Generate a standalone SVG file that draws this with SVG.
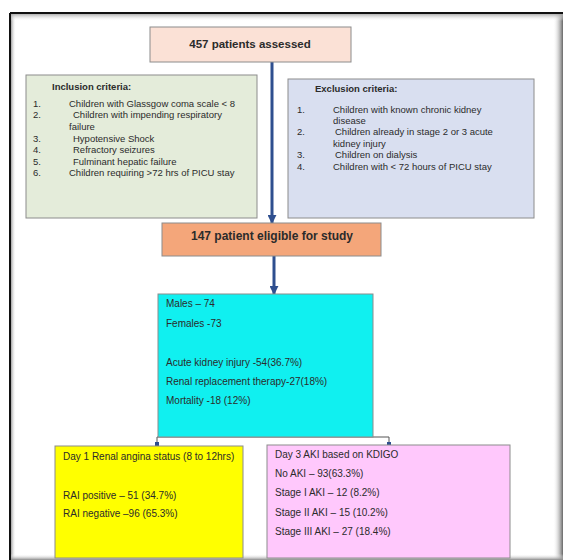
<svg xmlns="http://www.w3.org/2000/svg" width="563" height="560" viewBox="0 0 563 560">
<defs>
<linearGradient id="shL" x1="0" y1="0" x2="1" y2="0"><stop offset="0" stop-color="#777"/><stop offset="1" stop-color="#fff" stop-opacity="0"/></linearGradient>
<linearGradient id="shR" x1="1" y1="0" x2="0" y2="0"><stop offset="0" stop-color="#666"/><stop offset="1" stop-color="#fff" stop-opacity="0"/></linearGradient>
<linearGradient id="shT" x1="0" y1="0" x2="0" y2="1"><stop offset="0" stop-color="#999"/><stop offset="1" stop-color="#fff" stop-opacity="0"/></linearGradient>
<linearGradient id="shB" x1="0" y1="1" x2="0" y2="0"><stop offset="0" stop-color="#888"/><stop offset="1" stop-color="#fff" stop-opacity="0"/></linearGradient>
<marker id="ah" viewBox="0 0 10 10" refX="9" refY="5" markerWidth="3" markerHeight="3" orient="auto" markerUnits="strokeWidth"><path d="M0,0 L10,5 L0,10 z" fill="#2f4f8f"/></marker>
<style>
text{font-family:"Liberation Sans",Arial,sans-serif;fill:#2b2b2b}
.t{font-size:9.5px}
.h{font-size:9.5px;font-weight:bold}
.m{font-size:10px}
.big{font-weight:bold;text-anchor:middle}
.box{stroke:#8c8c8c;stroke-width:1}
.arr{stroke:#2f4f8f;stroke-width:3;fill:none}
.br{stroke:#555;stroke-width:1;fill:none}
</style>
</defs>
<rect x="0" y="0" width="563" height="560" fill="#fff"/>
<g id="frame">
<rect x="10" y="13" width="6" height="547" fill="url(#shL)"/>
<rect x="553" y="13" width="10" height="547" fill="url(#shR)"/>
<rect x="10" y="13" width="553" height="8" fill="url(#shT)"/>
<rect x="10" y="554" width="553" height="6" fill="url(#shB)"/>
<line x1="10" y1="13" x2="563" y2="13" stroke="#111" stroke-width="2"/>
<line x1="10" y1="13" x2="10" y2="560" stroke="#111" stroke-width="2"/>
</g>
<g id="connectors">
<line class="arr" x1="272" y1="62" x2="272" y2="223" marker-end="url(#ah)"/>
<line class="arr" x1="274" y1="256" x2="274" y2="294" marker-end="url(#ah)"/>
<path class="br" d="M157,437 H389 M157,437 V446 M389,437 V446"/>
<path d="M155,442 h4 v4 h-4z M387,442 h4 v4 h-4z" fill="#2f4f8f"/>
</g>
<g id="assessed">
<rect class="box" x="150" y="27" width="201" height="35" fill="#fbe1d6"/>
<text class="big" x="250" y="48" style="font-size:11.5px">457 patients assessed</text>
</g>
<g id="inclusion">
<rect class="box" x="26" y="75" width="231" height="143" fill="#e4ecda"/>
<text class="h" x="52" y="90">Inclusion criteria:</text>
<text class="t" x="33" y="107">1.</text><text class="t" x="69" y="107">Children with Glassgow coma scale &lt; 8</text>
<text class="t" x="33" y="118">2.</text><text class="t" x="73" y="118">Children with impending respiratory</text>
<text class="t" x="69" y="130">failure</text>
<text class="t" x="33" y="142">3.</text><text class="t" x="73" y="142">Hypotensive Shock</text>
<text class="t" x="33" y="153">4.</text><text class="t" x="73" y="153">Refractory seizures</text>
<text class="t" x="33" y="165">5.</text><text class="t" x="73" y="165">Fulminant hepatic failure</text>
<text class="t" x="33" y="176">6.</text><text class="t" x="69" y="176">Children requiring &gt;72 hrs of PICU stay</text>
</g>
<g id="exclusion">
<rect class="box" x="288" y="79" width="246" height="139" fill="#d9dff0"/>
<text class="h" x="315" y="92">Exclusion criteria:</text>
<text class="t" x="297" y="113">1.</text><text class="t" x="333" y="113">Children with known chronic kidney</text>
<text class="t" x="333" y="124">disease</text>
<text class="t" x="297" y="135">2.</text><text class="t" x="335" y="135">Children already in stage 2 or 3 acute</text>
<text class="t" x="333" y="147">kidney injury</text>
<text class="t" x="297" y="158">3.</text><text class="t" x="335" y="158">Children on dialysis</text>
<text class="t" x="297" y="170">4.</text><text class="t" x="333" y="170">Children with &lt; 72 hours of PICU stay</text>
</g>
<g id="eligible">
<rect class="box" x="162" y="223" width="219" height="33" fill="#f4a67a"/>
<text class="big" x="272" y="240" style="font-size:12px">147 patient eligible for study</text>
</g>
<g id="summary">
<rect class="box" x="158" y="294" width="215" height="143" fill="#10f0f0"/>
<text class="m" x="166" y="307">Males – 74</text>
<text class="m" x="166" y="327">Females -73</text>
<text class="m" x="166" y="366">Acute kidney injury -54(36.7%)</text>
<text class="m" x="166" y="385">Renal replacement therapy-27(18%)</text>
<text class="m" x="166" y="404">Mortality -18 (12%)</text>
</g>
<g id="renal-angina">
<rect class="box" x="55" y="446" width="188" height="112" fill="#ffff00"/>
<text class="m" x="63" y="460">Day 1 Renal angina status (8 to 12hrs)</text>
<text class="m" x="63" y="499">RAI positive – 51 (34.7%)</text>
<text class="m" x="63" y="517">RAI negative –96 (65.3%)</text>
</g>
<g id="aki">
<rect class="box" x="267" y="445" width="243" height="113" fill="#ffc8fc" stroke="#9a7fa0"/>
<text class="m" x="275" y="458">Day 3 AKI based on KDIGO</text>
<text class="m" x="275" y="477">No AKI – 93(63.3%)</text>
<text class="m" x="275" y="496">Stage I AKI – 12 (8.2%)</text>
<text class="m" x="275" y="516">Stage II AKI – 15 (10.2%)</text>
<text class="m" x="275" y="535">Stage III AKI – 27 (18.4%)</text>
</g>
</svg>
